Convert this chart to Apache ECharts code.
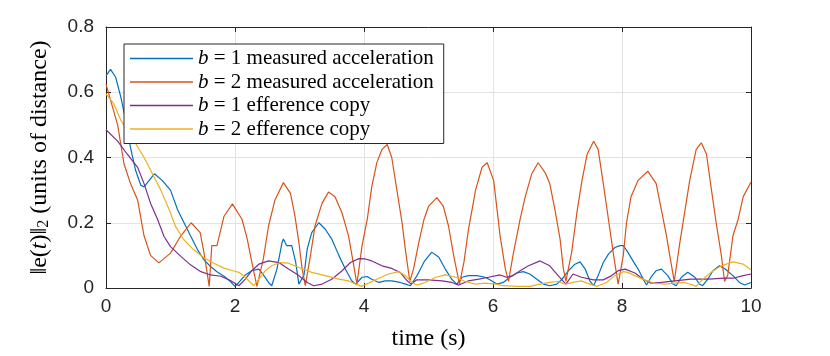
<!DOCTYPE html>
<html>
<head>
<meta charset="utf-8">
<script src="https://cdn.jsdelivr.net/npm/echarts@6/dist/echarts.min.js"></script>
<style>
  html, body { margin: 0; padding: 0; background: #fff; }
  #chart { width: 830px; height: 356px; }
</style>
</head>
<body>
<div id="chart"></div>
<script>
// b = 2 measured acceleration
const tMeas2 = [0, 0.03, 0.18, 0.28, 0.38, 0.49, 0.59, 0.69, 0.82, 1.0, 1.16, 1.32, 1.46, 1.52, 1.60, 1.64, 1.72, 1.83, 1.96,
  2.11, 2.19, 2.26, 2.34, 2.44, 2.52, 2.62, 2.75, 2.86, 2.93, 2.99, 3.04, 3.09, 3.17, 3.24, 3.35, 3.45, 3.55, 3.66, 3.76, 3.84, 3.89,
  3.97, 4.05, 4.12, 4.20, 4.28, 4.36, 4.43, 4.51, 4.59, 4.64, 4.71, 4.77, 4.85, 4.93, 5.00, 5.13, 5.23, 5.31, 5.39, 5.48,
  5.55, 5.62, 5.73, 5.83, 5.91, 6.01, 6.11, 6.19, 6.24, 6.31, 6.42, 6.50, 6.60, 6.70, 6.81, 6.88, 6.96, 7.04, 7.09, 7.13,
  7.22, 7.30, 7.38, 7.46, 7.56, 7.63, 7.71, 7.79, 7.87, 7.94, 8.02, 8.07, 8.14, 8.25, 8.40, 8.53, 8.61, 8.69, 8.74, 8.81,
  8.89, 8.97, 9.05, 9.15, 9.23, 9.31, 9.38, 9.46, 9.54, 9.59, 9.64, 9.72, 9.80, 9.88, 10.0]
const vMeas2 = [0.625, 0.62, 0.50, 0.38, 0.32, 0.27, 0.16, 0.10, 0.077, 0.107, 0.16, 0.20, 0.17, 0.107, 0.005, 0.13, 0.13, 0.22, 0.258,
  0.21, 0.15, 0.08, 0.005, 0.09, 0.19, 0.27, 0.323, 0.29, 0.22, 0.14, 0.06, 0.007, 0.10, 0.19, 0.26, 0.294, 0.28, 0.23, 0.16, 0.07, 0.012,
  0.13, 0.21, 0.31, 0.385, 0.425, 0.44, 0.40, 0.30, 0.20, 0.12, 0.02, 0.06, 0.14, 0.21, 0.25, 0.277, 0.25, 0.19, 0.10, 0.012,
  0.08, 0.18, 0.30, 0.37, 0.384, 0.33, 0.16, 0.06, 0.02, 0.10, 0.21, 0.28, 0.35, 0.384, 0.353, 0.32, 0.24, 0.15, 0.06, 0.02,
  0.11, 0.23, 0.33, 0.41, 0.45, 0.425, 0.32, 0.21, 0.10, 0.012, 0.10, 0.20, 0.28, 0.33, 0.358, 0.32, 0.24, 0.16, 0.10, 0.02,
  0.13, 0.23, 0.33, 0.425, 0.445, 0.41, 0.31, 0.20, 0.10, 0.02, 0.04, 0.16, 0.21, 0.28, 0.325]

// b = 1 measured acceleration
const tMeas1 = [0, 0.03, 0.07, 0.15, 0.23, 0.31, 0.38, 0.46, 0.54, 0.59, 0.67, 0.75, 0.87, 1.0, 1.11, 1.21, 1.31, 1.42, 1.52, 1.62,
  1.72, 1.83, 1.93, 2.0, 2.06, 2.16, 2.26, 2.37, 2.44, 2.52, 2.57, 2.65, 2.73, 2.75, 2.80, 2.88, 2.94, 2.99, 3.07, 3.12, 3.19,
  3.30, 3.40, 3.50, 3.61, 3.71, 3.81, 3.87, 3.97, 4.05, 4.12, 4.23, 4.33, 4.43, 4.56, 4.64, 4.72, 4.82, 4.93, 5.05, 5.16, 5.26,
  5.36, 5.44, 5.52, 5.62, 5.75, 5.88, 5.95, 6.06, 6.16, 6.26, 6.37, 6.47, 6.57, 6.68, 6.78, 6.88, 6.99, 7.07, 7.17, 7.27, 7.35,
  7.43, 7.50, 7.56, 7.63, 7.71, 7.79, 7.89, 7.97, 8.02, 8.09, 8.17, 8.25, 8.33, 8.38, 8.45, 8.53, 8.61, 8.71, 8.79, 8.84, 8.92,
  9.02, 9.13, 9.20, 9.25, 9.33, 9.41, 9.51, 9.60, 9.72, 9.82, 9.90, 10.0]
const vMeas1 = [0.65, 0.656, 0.67, 0.646, 0.585, 0.51, 0.43, 0.36, 0.315, 0.31, 0.33, 0.35, 0.33, 0.30, 0.24, 0.20, 0.16, 0.117, 0.086, 0.066,
  0.05, 0.036, 0.02, 0.005, 0.017, 0.04, 0.053, 0.058, 0.04, 0.017, 0.007, 0.058, 0.14, 0.15, 0.13, 0.13, 0.08, 0.012, 0.04, 0.12, 0.17,
  0.20, 0.18, 0.15, 0.10, 0.058, 0.022, 0.012, 0.033, 0.035, 0.027, 0.017, 0.022, 0.022, 0.017, 0.012, 0.007, 0.037, 0.08, 0.11, 0.094, 0.058,
  0.027, 0.012, 0.033, 0.038, 0.038, 0.033, 0.025, 0.012, 0.017, 0.033, 0.046, 0.05, 0.043, 0.027, 0.012, 0.007, 0.012, 0.027, 0.053, 0.073, 0.08,
  0.058, 0.022, 0.007, 0.038, 0.078, 0.104, 0.124, 0.13, 0.13, 0.11, 0.083, 0.058, 0.027, 0.009, 0.033, 0.053, 0.058, 0.038, 0.012, 0.007, 0.033,
  0.048, 0.033, 0.012, 0.007, 0.027, 0.053, 0.068, 0.058, 0.038, 0.017, 0.009, 0.017]

// b = 1 efference copy
const tEff1 = [0, 0.03, 0.18, 0.33, 0.49, 0.59, 0.69, 0.80, 0.90, 1.0, 1.16, 1.31, 1.47, 1.62, 1.78, 1.93, 2.06, 2.16, 2.26, 2.37,
  2.52, 2.68, 2.83, 2.99, 3.12, 3.22, 3.35, 3.50, 3.66, 3.79, 3.92, 4.02, 4.12, 4.28, 4.43, 4.56, 4.67, 4.73, 4.82, 5.0, 5.21,
  5.36, 5.47, 5.62, 5.78, 5.93, 6.11, 6.21, 6.31, 6.42, 6.55, 6.73, 6.88, 7.01, 7.13, 7.24, 7.37, 7.56, 7.71, 7.84, 7.94, 8.05,
  8.20, 8.33, 8.45, 8.61, 8.82, 9.07, 9.33, 9.59, 9.72, 9.88, 10.0]
const vEff1 = [0.485, 0.48, 0.45, 0.41, 0.37, 0.32, 0.26, 0.21, 0.158, 0.127, 0.097, 0.071, 0.05, 0.04, 0.036, 0.023, 0.007, 0.027, 0.053, 0.073,
  0.083, 0.078, 0.058, 0.038, 0.017, 0.007, 0.012, 0.027, 0.053, 0.078, 0.09, 0.089, 0.083, 0.068, 0.06, 0.048, 0.022, 0.012, 0.025, 0.025, 0.022,
  0.017, 0.009, 0.022, 0.027, 0.033, 0.04, 0.033, 0.038, 0.053, 0.068, 0.083, 0.068, 0.038, 0.012, 0.043, 0.033, 0.025, 0.025, 0.038, 0.053, 0.058,
  0.046, 0.027, 0.015, 0.017, 0.022, 0.027, 0.027, 0.03, 0.03, 0.038, 0.043]

// b = 2 efference copy
const tEff2 = [0, 0.03, 0.12, 0.23, 0.33, 0.46, 0.59, 0.72, 0.85, 0.98, 1.08, 1.21, 1.36, 1.52, 1.67, 1.83, 1.98, 2.06, 2.16, 2.24,
  2.29, 2.37, 2.47, 2.57, 2.70, 2.83, 2.99, 3.19, 3.40, 3.61, 3.76, 3.87, 3.96, 4.07, 4.23, 4.38, 4.54, 4.64, 4.74, 4.82, 4.95,
  5.11, 5.26, 5.42, 5.57, 5.73, 5.88, 6.04, 6.16, 6.37, 6.57, 6.73, 6.88, 7.01, 7.12, 7.24, 7.37, 7.50, 7.61, 7.76, 7.89, 8.02,
  8.09, 8.20, 8.35, 8.50, 8.66, 8.82, 8.97, 9.10, 9.15, 9.25, 9.38, 9.54, 9.72, 9.88, 10.0]
const vEff2 = [0.595, 0.59, 0.565, 0.514, 0.483, 0.443, 0.40, 0.35, 0.30, 0.24, 0.188, 0.147, 0.117, 0.092, 0.076, 0.061, 0.052, 0.048, 0.033, 0.017,
  0.007, 0.027, 0.053, 0.068, 0.078, 0.076, 0.063, 0.048, 0.038, 0.027, 0.022, 0.012, 0.005, 0.015, 0.03, 0.043, 0.05, 0.038, 0.017, 0.009, 0.017,
  0.033, 0.04, 0.033, 0.02, 0.012, 0.015, 0.012, 0.007, 0.005, 0.005, 0.012, 0.017, 0.02, 0.012, 0.017, 0.022, 0.012, 0.005, 0.017, 0.038, 0.05,
  0.048, 0.038, 0.025, 0.015, 0.012, 0.015, 0.017, 0.009, 0.005, 0.027, 0.048, 0.068, 0.08, 0.073, 0.056]

const names = ['b1m', 'b2m', 'b1e', 'b2e']
const legendText = {
  b1m: '{i|b} = 1 measured acceleration',
  b2m: '{i|b} = 2 measured acceleration',
  b1e: '{i|b} = 1 efference copy',
  b2e: '{i|b} = 2 efference copy'
}
const colors = ['#0072BD', '#D95319', '#7E2F8E', '#EDB120']

function pairs(t, v) {
  return t.map((x, i) => [x, v[i]])
}

const ink = '#262626'
const serif = '"Liberation Serif", "DejaVu Serif", serif'
const sans = '"Liberation Sans", Arial, sans-serif'

const chart = echarts.init(document.getElementById('chart'), null, { renderer: 'canvas' })

const baseX = {
  type: 'value', min: 0, max: 10, interval: 2,
  axisLine: { show: true, onZero: false, lineStyle: { color: ink, width: 1 } },
  axisTick: { show: true, inside: true, length: 5, lineStyle: { color: ink } },
  splitLine: { show: false }
}
const baseY = {
  type: 'value', min: 0, max: 0.8, interval: 0.2,
  axisLine: { show: true, onZero: false, lineStyle: { color: ink, width: 1 } },
  axisTick: { show: true, inside: true, length: 5, lineStyle: { color: ink } },
  splitLine: { show: false }
}

chart.setOption({
  animation: false,
  color: colors,
  grid: { left: 106, right: 79, top: 27, bottom: 67 },
  legend: {
    orient: 'vertical',
    left: 124,
    top: 44,
    data: names,
    icon: 'rect',
    itemWidth: 63,
    itemHeight: 1.3,
    itemGap: 2.5,
    padding: [4, 10, 4, 6],
    borderColor: ink,
    borderWidth: 1,
    backgroundColor: '#fff',
    formatter: n => legendText[n],
    textStyle: {
      fontFamily: serif, fontSize: 21, color: '#000', lineHeight: 19,
      rich: { i: { fontFamily: serif, fontStyle: 'italic', fontSize: 21, color: '#000' } }
    }
  },
  xAxis: [
    Object.assign({}, baseX, {
      position: 'bottom',
      splitLine: { show: true, lineStyle: { color: '#e3e3e3', width: 1 } },
      axisLabel: { color: ink, fontFamily: sans, fontSize: 19, margin: 9 },
      name: 'time (s)',
      nameLocation: 'middle',
      nameGap: 39,
      nameTextStyle: { fontFamily: serif, fontSize: 24, color: '#000' }
    }),
    Object.assign({}, baseX, { position: 'top', axisLabel: { show: false } })
  ],
  yAxis: [
    Object.assign({}, baseY, {
      position: 'left',
      splitLine: { show: true, lineStyle: { color: '#e3e3e3', width: 1 } },
      axisLabel: { color: ink, fontFamily: sans, fontSize: 19, margin: 12 },
      name: '‖e({i|t})‖{s|2} (units of distance)',
      nameLocation: 'middle',
      nameGap: 54,
      nameTextStyle: {
        fontFamily: serif, fontSize: 24, color: '#000',
        rich: {
          i: { fontFamily: serif, fontStyle: 'italic', fontSize: 24, color: '#000' },
          s: { fontFamily: serif, fontSize: 16, color: '#000', verticalAlign: 'bottom', padding: [9, 0, 0, 0] }
        }
      }
    }),
    Object.assign({}, baseY, { position: 'right', axisLabel: { show: false } })
  ],
  series: [
    { name: 'b1m', type: 'line', data: pairs(tMeas1, vMeas1) },
    { name: 'b2m', type: 'line', data: pairs(tMeas2, vMeas2) },
    { name: 'b1e', type: 'line', data: pairs(tEff1, vEff1) },
    { name: 'b2e', type: 'line', data: pairs(tEff2, vEff2) }
  ].map((s, i) => Object.assign(s, {
    showSymbol: false,
    symbol: 'none',
    lineStyle: { width: 1.2, color: colors[i] },
    itemStyle: { color: colors[i] },
    z: 3
  }))
})
</script>
</body>
</html>
